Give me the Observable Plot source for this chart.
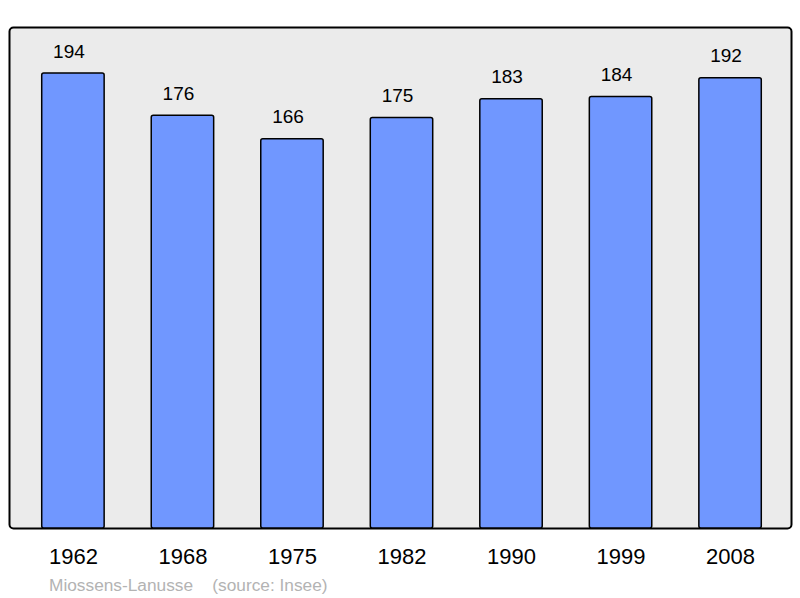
<!DOCTYPE html>
<html><head><meta charset="utf-8">
<script src="https://cdn.jsdelivr.net/npm/d3@7"></script>
<script src="https://cdn.jsdelivr.net/npm/@observablehq/plot@0.6"></script>
<style>
body{margin:0;background:#fff;font-family:"Liberation Sans",Arial,sans-serif;}
#wrap{position:relative;width:800px;height:598px;}
#cap{position:absolute;left:49px;top:575px;font-size:17.3px;line-height:20px;color:#b3b3b3;white-space:pre;}
</style></head>
<body><div id="wrap"><div id="chart"></div><div id="cap"></div></div>
<script>
const years = ["1962","1968","1975","1982","1990","1999","2008"];
const population = [194,176,166,175,183,184,192];
const caption = "Miossens-Lanusse    (source: Insee)";
const data = years.map((y,i)=>({year:y, pop:population[i]}));
const chart = Plot.plot({
  width:800, height:570,
  marginLeft:9, marginRight:9, marginTop:27, marginBottom:42,
  style:{fontFamily:"Liberation Sans, Arial, sans-serif", background:"transparent"},
  x:{domain:years, paddingInner:0.43, paddingOuter:0.285, align:0.524, round:false, label:null},
  y:{domain:[0,213.6], axis:null},
  marks:[
    Plot.frame({fill:"#ebebeb", stroke:"black", strokeWidth:2, rx:4}),
    Plot.barY(data,{x:"year", y:"pop", fill:"#7097ff", stroke:"black", strokeWidth:1.5, rx:2}),
    Plot.text(data,{x:"year", y:"pop", text:d=>String(d.pop), dx:-4.5, dy:-22, fontSize:19, fill:"black"}),
    Plot.axisX({tickSize:0, tickPadding:20, fontSize:22, label:null, color:"black"})
  ]
});
document.getElementById("chart").appendChild(chart);
document.getElementById("cap").textContent = caption;
</script></body></html>
